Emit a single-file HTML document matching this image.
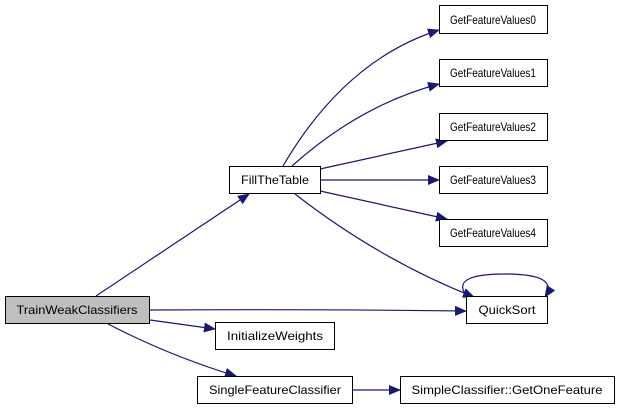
<!DOCTYPE html>
<html><head><style>
html,body{margin:0;padding:0;background:#fff;}
svg{display:block;}
text{font-family:"Liberation Sans",Arial,sans-serif;font-size:12px;fill:#000;}
</style></head><body>
<svg width="619" height="409" viewBox="0 0 619 409" xmlns="http://www.w3.org/2000/svg">
<defs>
<marker id="a" markerWidth="12" markerHeight="10" refX="11" refY="5" orient="auto" markerUnits="userSpaceOnUse">
<path d="M0,0 L12,5 L0,10 z" fill="#191970"/>
</marker>
</defs>
<g fill="none" stroke="#191970" stroke-width="1.2">
<path d="M96,296 L249,194" marker-end="url(#a)"/>
<path d="M150,310 Q300,309 466,311" marker-end="url(#a)"/>
<path d="M150,320 L215,329" marker-end="url(#a)"/>
<path d="M108,324 Q170,356 236,376" marker-end="url(#a)"/>
<path d="M352,390 L400,390" marker-end="url(#a)"/>
<path d="M283,166 Q345,60 439,30" marker-end="url(#a)"/>
<path d="M292,166 Q360,105 439,84" marker-end="url(#a)"/>
<path d="M320,169 L447,141" marker-end="url(#a)"/>
<path d="M320,180 L439,180" marker-end="url(#a)"/>
<path d="M320,191 L447,219" marker-end="url(#a)"/>
<path d="M295,194 Q380,260 474,297" marker-end="url(#a)"/>
<path d="M464,292 Q455,274 505,274 Q560,274 545,297" marker-end="url(#a)"/>
</g>
<g stroke="#000" stroke-width="1" fill="#fff">
<rect x="5.5" y="296.5" width="144" height="27" fill="#bfbfbf"/>
<rect x="229.5" y="166.5" width="91" height="27"/>
<rect x="439.5" y="5.5" width="108" height="28"/>
<rect x="439.5" y="59.5" width="108" height="27"/>
<rect x="439.5" y="113.5" width="108" height="27"/>
<rect x="439.5" y="166.5" width="108" height="27"/>
<rect x="439.5" y="219.5" width="108" height="27"/>
<rect x="466.5" y="296.5" width="81" height="27"/>
<rect x="215.5" y="322.5" width="119" height="27"/>
<rect x="197.5" y="376.5" width="155" height="27"/>
<rect x="400.5" y="376.5" width="214" height="27"/>
</g>
<g text-anchor="middle">
<text x="77" y="314" textLength="121" lengthAdjust="spacingAndGlyphs">TrainWeakClassifiers</text>
<text x="275" y="184" textLength="68" lengthAdjust="spacingAndGlyphs">FillTheTable</text>
<text x="493" y="24" textLength="86" lengthAdjust="spacingAndGlyphs">GetFeatureValues0</text>
<text x="493" y="77" textLength="86" lengthAdjust="spacingAndGlyphs">GetFeatureValues1</text>
<text x="493" y="131" textLength="86" lengthAdjust="spacingAndGlyphs">GetFeatureValues2</text>
<text x="493" y="184" textLength="86" lengthAdjust="spacingAndGlyphs">GetFeatureValues3</text>
<text x="493" y="237" textLength="86" lengthAdjust="spacingAndGlyphs">GetFeatureValues4</text>
<text x="507" y="314" textLength="57" lengthAdjust="spacingAndGlyphs">QuickSort</text>
<text x="275" y="340" textLength="96" lengthAdjust="spacingAndGlyphs">InitializeWeights</text>
<text x="275" y="394" textLength="132" lengthAdjust="spacingAndGlyphs">SingleFeatureClassifier</text>
<text x="507" y="394" textLength="191" lengthAdjust="spacingAndGlyphs">SimpleClassifier::GetOneFeature</text>
</g>
</svg>
</body></html>
